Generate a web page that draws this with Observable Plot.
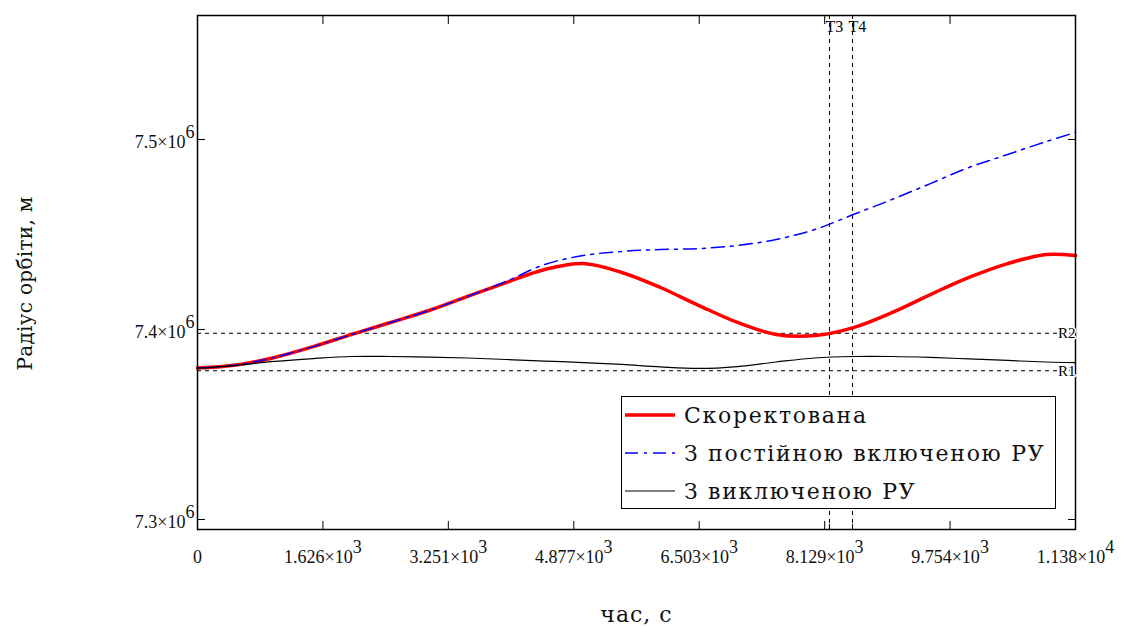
<!DOCTYPE html>
<html><head><meta charset="utf-8">
<script src="https://cdn.jsdelivr.net/npm/d3@7"></script>
<script src="https://cdn.jsdelivr.net/npm/@observablehq/plot@0.6"></script>
<style>
body{margin:0;background:#fff;}
#wrap{position:relative;width:1123px;height:626px;font-family:"Liberation Serif",serif;}
#legend{position:absolute;left:621px;top:396px;width:433px;height:111px;border:1.5px solid #000;background:#fff;box-sizing:content-box;}
.row{position:absolute;left:0;height:30px;display:flex;align-items:center;}
.row span{font-family:"DejaVu Serif",serif;font-size:22px;letter-spacing:1.7px;color:#111;margin-left:5px;white-space:nowrap;}
</style></head><body><div id="wrap"></div>
<script>
// time, s
const times = [0,500,1000,1500,2000,2500,3000,3500,4000,4500,5000,5500,6000,6500,7000,7500,8000,8500,9000,9500,10000,10500,11000,11380];
// orbit radius, m
const corrected = [7379700,7381300,7385300,7391000,7397400,7403700,7410000,7417400,7424700,7431600,7434700,7430000,7422100,7412600,7403700,7397400,7396800,7401000,7408900,7418400,7427400,7434700,7439500,7438900];
const constantOn = [7379700,7381300,7385300,7391000,7397400,7403700,7410000,7417400,7425300,7434200,7438900,7441100,7442100,7442600,7444200,7447400,7452600,7460500,7468400,7476800,7485300,7492100,7498900,7503700];
const engineOff = [7379500,7381100,7383200,7384700,7385800,7385800,7385500,7385000,7384200,7383400,7382600,7381600,7380300,7379500,7380500,7382900,7385000,7385800,7385800,7385300,7384500,7383700,7382900,7382600];

const seriesNames = ["Скоректована","З постійною включеною РУ","З виключеною РУ"];
const seriesColors = ["#ff0000","#0000ff","#000000"];
const seriesWidths = [3.5,1.5,1.2];
const seriesDash = [null,"13,6,3,6",null];

const xTicks = [0,1626,3251,4877,6503,8129,9754,11380];
const xTickLabels = ["0","1.626×10^3","3.251×10^3","4.877×10^3","6.503×10^3","8.129×10^3","9.754×10^3","1.138×10^4"];
const yTicks = [7.3e6,7.4e6,7.5e6];
const yTickLabels = ["7.3×10^6","7.4×10^6","7.5×10^6"];

const rLevels = [7398000,7378300];
const rLabels = ["R2","R1"];
const tMarks = [8191,8490];
const tLabels = ["T3","T4"];

const xTitle = "час, с";
const yTitle = "Радіус орбіти, м";

const seriesValues = [corrected, constantOn, engineOff];
const rows = seriesValues.flatMap((vals, s) => times.map((t, i) => ({t, v: vals[i], s})));

const font = '"Liberation Serif", serif';
const cyr = '"DejaVu Serif", serif';
const lineMarks = [0,1,2].map(s => Plot.line(rows.filter(d => d.s === s), {
  x: "t", y: "v", stroke: seriesColors[s], strokeWidth: seriesWidths[s],
  strokeDasharray: seriesDash[s], curve: "catmull-rom"
}));

const chart = Plot.plot({
  width: 1123, height: 626,
  marginLeft: 197, marginRight: 48, marginTop: 15, marginBottom: 97,
  style: {fontFamily: font, background: "#fff", color: "#111"},
  x: {domain: [0, 11380]},
  y: {domain: [7.29474e6, 7.56526e6]},
  marks: [
    Plot.ruleY(rLevels, {stroke: "#000", strokeWidth: 1, strokeDasharray: "4,4"}),
    Plot.ruleX(tMarks, {stroke: "#000", strokeWidth: 1, strokeDasharray: "4,4"}),
    ...lineMarks,
    Plot.frame({stroke: "#000", strokeWidth: 1.5}),
    // inward ticks
    Plot.axisX({ticks: xTicks, tickSize: 8, dy: -8, fill: "none", label: null, stroke: "#000"}),
    Plot.axisX({anchor: "top", ticks: xTicks, tickSize: 8, dy: 8, fill: "none", label: null, stroke: "#000"}),
    Plot.axisX({ticks: tMarks, tickSize: 5, dy: -5, fill: "none", label: null, stroke: "#000"}),
    Plot.axisY({ticks: yTicks, tickSize: 8, dx: 8, fill: "none", label: null, stroke: "#000"}),
    Plot.axisY({anchor: "right", ticks: yTicks, tickSize: 8, dx: -8, fill: "none", label: null, stroke: "#000"}),
    // tick labels
    Plot.axisX({ticks: xTicks, tickSize: 0, tickPadding: 21, label: null, fontSize: 18,
      tickFormat: d => xTickLabels[xTicks.indexOf(d)]}),
    Plot.axisY({ticks: yTicks, tickSize: 0, tickPadding: 3, dy: 3, label: null, fontSize: 18,
      tickFormat: d => yTickLabels[yTicks.indexOf(d)]}),
    // reference labels
    Plot.text(rLevels, {y: d => d, text: (d, i) => rLabels[i], frameAnchor: "right", textAnchor: "end",
      fontSize: 15, fill: "#000", stroke: "#fff", strokeWidth: 3}),
    Plot.text(tMarks, {x: d => d, text: (d, i) => tLabels[i], frameAnchor: "top", lineAnchor: "top",
      textAnchor: "start", dx: -4, dy: 5, fontSize: 16, fill: "#000"}),
    // axis titles
    Plot.text([xTitle], {frameAnchor: "bottom", lineAnchor: "middle", textAnchor: "middle", dy: 85,
      fontSize: 22, fontFamily: cyr, fill: "#111"}),
    Plot.text([yTitle], {frameAnchor: "left", rotate: -90, lineAnchor: "middle", textAnchor: "middle",
      dx: -172, dy: 11, fontSize: 20, fontFamily: cyr, fill: "#111"})
  ]
});

// superscript exponents
chart.querySelectorAll('g[aria-label$="tick label"] text').forEach(t => {
  const s = t.textContent; const k = s.indexOf("^"); if (k < 0) return;
  t.textContent = s.slice(0, k);
  const sup = document.createElementNS("http://www.w3.org/2000/svg", "tspan");
  sup.setAttribute("dy", "-0.55em");
  sup.textContent = s.slice(k + 1);
  t.appendChild(sup);
});
chart.querySelectorAll('g[aria-label="text"] text').forEach(t => {
  if (t.textContent === xTitle) t.setAttribute("letter-spacing", "1");
  if (t.textContent === yTitle) t.setAttribute("letter-spacing", "0.3");
});

const wrap = document.getElementById("wrap");
wrap.appendChild(chart);

// legend
const legend = document.createElement("div");
legend.id = "legend";
seriesNames.forEach((name, i) => {
  const row = document.createElement("div");
  row.className = "row";
  row.style.top = (3 + i * 38) + "px";
  const sw = document.createElementNS("http://www.w3.org/2000/svg", "svg");
  sw.setAttribute("width", 54); sw.setAttribute("height", 10);
  sw.style.marginLeft = "3px";
  const ln = document.createElementNS("http://www.w3.org/2000/svg", "line");
  ln.setAttribute("x1", 0); ln.setAttribute("x2", 50); ln.setAttribute("y1", 5); ln.setAttribute("y2", 5);
  ln.setAttribute("stroke", seriesColors[i]);
  ln.setAttribute("stroke-width", seriesWidths[i]);
  if (seriesDash[i]) ln.setAttribute("stroke-dasharray", seriesDash[i]);
  sw.appendChild(ln);
  const tx = document.createElement("span");
  tx.textContent = name;
  row.appendChild(sw); row.appendChild(tx);
  legend.appendChild(row);
});
wrap.appendChild(legend);
</script>
</body></html>
